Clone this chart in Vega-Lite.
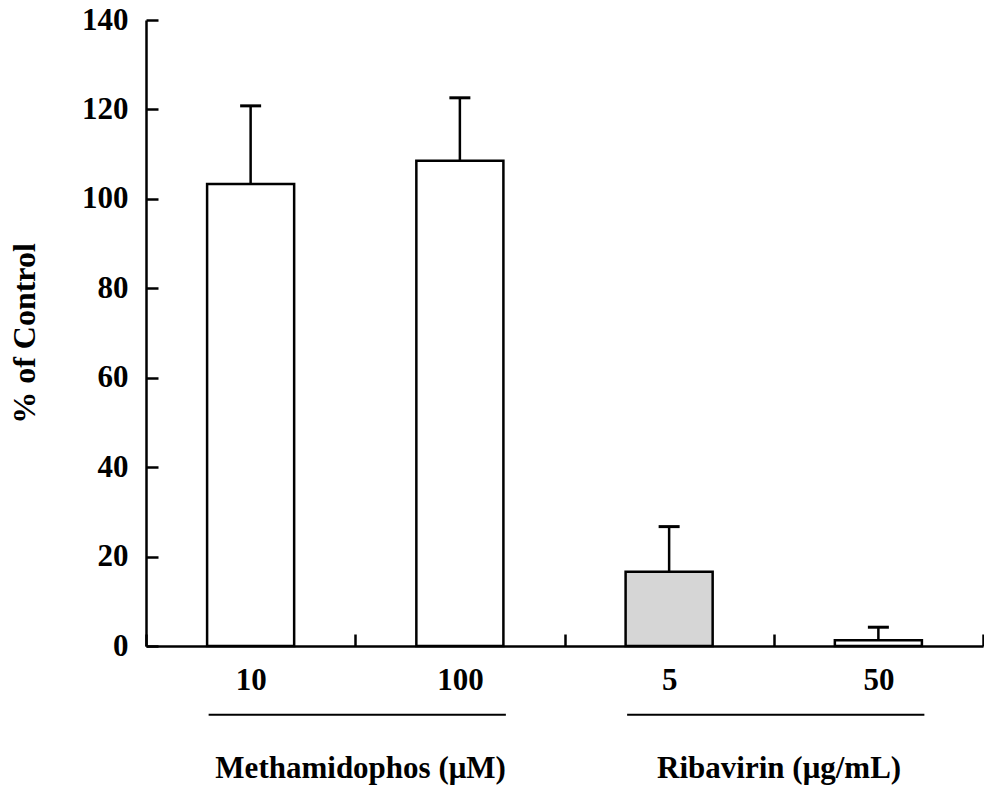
{
  "$schema": "https://vega.github.io/schema/vega-lite/v6.json",
  "width": 837,
  "height": 626,
  "autosize": "none",
  "padding": {"left": 146, "top": 20, "right": 1, "bottom": 151},
  "background": "white",
  "config": {"view": {"stroke": null}, "font": "Liberation Serif"},
  "datasets": {
    "bars": [
      {"dose": "10", "group": "Methamidophos (μM)", "value": 103.3, "upper": 120.8},
      {"dose": "100", "group": "Methamidophos (μM)", "value": 108.5, "upper": 122.6},
      {"dose": "5", "group": "Ribavirin (μg/mL)", "value": 16.6, "upper": 26.7},
      {"dose": "50", "group": "Ribavirin (μg/mL)", "value": 1.3, "upper": 4.2}
    ],
    "groups": [
      {"group": "Methamidophos (μM)", "first": "10", "last": "100"},
      {"group": "Ribavirin (μg/mL)", "first": "5", "last": "50"}
    ]
  },
  "layer": [
    {
      "data": {"name": "bars"},
      "mark": {"type": "bar", "stroke": "black", "strokeWidth": 2.5, "width": {"band": 0.416}},
      "encoding": {
        "x": {
          "field": "dose", "type": "nominal", "sort": null,
          "scale": {"domain": ["10", "100", "5", "50"], "paddingInner": 0, "paddingOuter": 0},
          "axis": {
            "title": null, "labelAngle": 0, "tickBand": "extent", "tickSize": -12,
            "tickWidth": 2.5, "tickColor": "black", "domainColor": "black", "domainWidth": 2.5,
            "labelFont": "Liberation Serif", "labelFontWeight": "bold", "labelFontSize": 31,
            "labelColor": "black", "labelPadding": 31
          }
        },
        "y": {
          "field": "value", "type": "quantitative",
          "scale": {"domain": [0, 140], "nice": false},
          "axis": {
            "values": [0, 20, 40, 60, 80, 100, 120, 140], "grid": false,
            "tickSize": -12, "tickWidth": 2.5, "tickColor": "black",
            "domainColor": "black", "domainWidth": 2.5,
            "labelFont": "Liberation Serif", "labelFontWeight": "bold", "labelFontSize": 31,
            "labelColor": "black", "labelPadding": 30,
            "title": "% of Control", "titleFont": "Liberation Serif", "titleFontWeight": "bold",
            "titleFontSize": 32, "titleColor": "black", "titlePadding": 40
          }
        },
        "fill": {
          "field": "dose", "type": "nominal",
          "scale": {"domain": ["10", "100", "5", "50"], "range": ["white", "white", "#d6d6d6", "white"]},
          "legend": null
        }
      }
    },
    {
      "data": {"name": "bars"},
      "mark": {"type": "rule", "strokeWidth": 2.5, "color": "black"},
      "encoding": {
        "x": {"field": "dose", "type": "nominal", "sort": null},
        "y": {"field": "value", "type": "quantitative"},
        "y2": {"field": "upper"}
      }
    },
    {
      "data": {"name": "bars"},
      "mark": {"type": "tick", "orient": "horizontal", "size": 21, "thickness": 3, "color": "black", "opacity": 1},
      "encoding": {
        "x": {"field": "dose", "type": "nominal", "sort": null},
        "y": {"field": "upper", "type": "quantitative"}
      }
    },
    {
      "data": {"name": "groups"},
      "mark": {"type": "rule", "strokeWidth": 2, "color": "black", "xOffset": -42, "x2Offset": 46},
      "encoding": {
        "x": {"field": "first", "type": "nominal"},
        "x2": {"field": "last"},
        "y": {"datum": -15.4, "type": "quantitative"}
      }
    },
    {
      "data": {"name": "groups"},
      "mark": {"type": "text", "dx": 110, "align": "center", "baseline": "middle", "fontSize": 31, "fontWeight": "bold", "font": "Liberation Serif", "color": "black"},
      "encoding": {
        "x": {"field": "first", "type": "nominal"},
        "y": {"datum": -27.5, "type": "quantitative"},
        "text": {"field": "group"}
      }
    }
  ]
}
